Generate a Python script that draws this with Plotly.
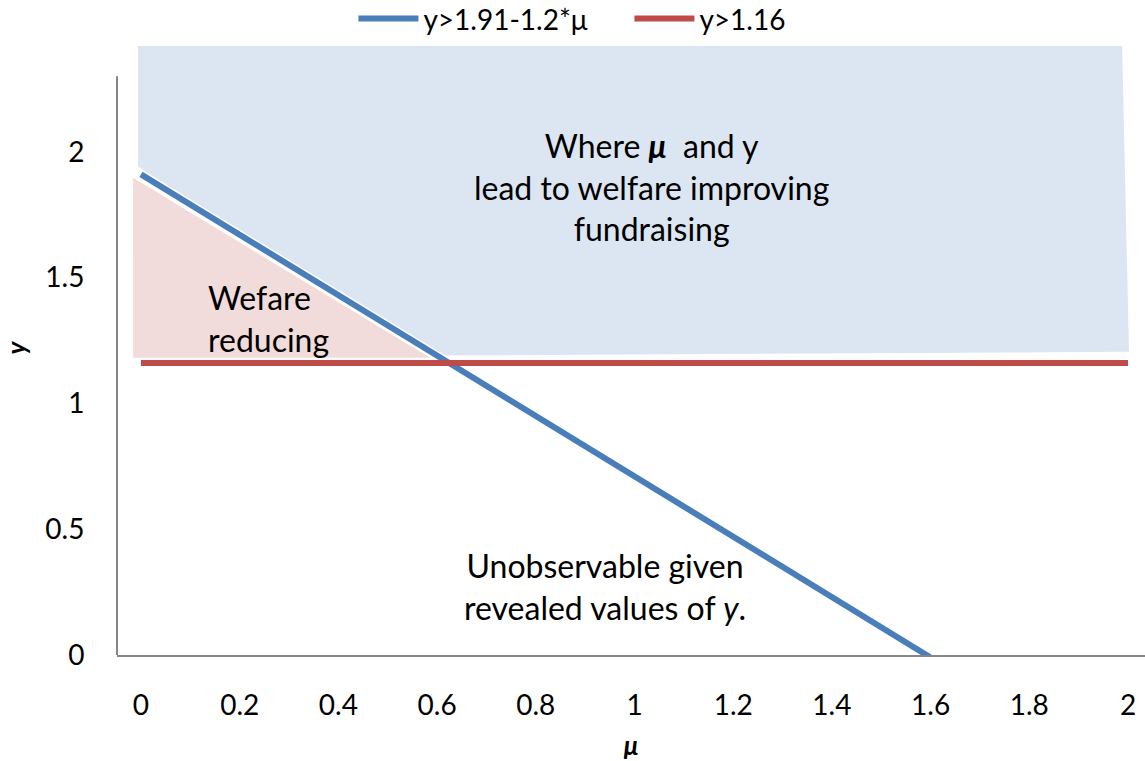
import plotly.graph_objects as go

# Data
line1_x = [0, 0.2, 0.4, 0.6, 0.8, 1.0, 1.2, 1.4, 1.6]
line1_y = [1.91, 1.67, 1.43, 1.19, 0.95, 0.71, 0.47, 0.23, -0.01]
line2_x = [0, 2]
line2_y = [1.16, 1.16]
line1_name = "y>1.91-1.2*μ"
line2_name = "y>1.16"

# shaded regions (vertices)
blue_region_x = [-0.006, 1.988, 2.002, 0.60, -0.006]
blue_region_y = [2.42, 2.42, 1.205, 1.19, 1.94]
pink_region_x = [-0.016, -0.016, 0.586]
pink_region_y = [1.897, 1.181, 1.181]

x_ticks = [0, 0.2, 0.4, 0.6, 0.8, 1, 1.2, 1.4, 1.6, 1.8, 2]
y_ticks = [0, 0.5, 1, 1.5, 2]

FONT = "Lato"
BLUE = "#4A7EBB"
RED = "#BE4B48"

fig = go.Figure()
fig.add_trace(go.Scatter(x=blue_region_x, y=blue_region_y, fill="toself",
                         fillcolor="#DCE6F2", line=dict(width=0), mode="lines",
                         showlegend=False, hoverinfo="skip"))
fig.add_trace(go.Scatter(x=pink_region_x, y=pink_region_y, fill="toself",
                         fillcolor="#F2DCDB", line=dict(width=0), mode="lines",
                         showlegend=False, hoverinfo="skip"))
fig.add_trace(go.Scatter(x=line1_x, y=line1_y, mode="lines",
                         line=dict(color="white", width=9),
                         showlegend=False, hoverinfo="skip"))
fig.add_trace(go.Scatter(x=line1_x, y=line1_y, mode="lines", name=line1_name,
                         line=dict(color=BLUE, width=6)))
fig.add_trace(go.Scatter(x=line2_x, y=line2_y, mode="lines", name=line2_name,
                         line=dict(color=RED, width=6)))

ANN = 32
fig.add_annotation(x=1.035, y=1.86, xref="x", yref="y",
                   text="Where <b><i>μ</i></b>\u00a0 and y<br>lead to welfare improving<br>fundraising",
                   showarrow=False, align="center", font=dict(family=FONT, size=ANN, color="black"))
fig.add_annotation(x=0.132, y=1.336, xref="x", yref="y", xanchor="left",
                   text="Wefare<br>reducing",
                   showarrow=False, align="left", font=dict(family=FONT, size=ANN, color="black"))
fig.add_annotation(x=0.94, y=0.274, xref="x", yref="y",
                   text="Unobservable given<br>revealed values of <i>y</i>.",
                   showarrow=False, align="center", font=dict(family=FONT, size=ANN, color="black"))

# y-axis line (stops at 2.3 like the reference)
fig.add_shape(type="line", xref="paper", yref="y", x0=0, x1=0, y0=0, y1=2.3,
              line=dict(color="#868686", width=2))

fig.update_layout(
    width=1145, height=761,
    margin=dict(l=117, r=0, t=41, b=106, autoexpand=False),
    paper_bgcolor="white", plot_bgcolor="white",
    font=dict(family=FONT, size=28, color="black"),
    legend=dict(orientation="h", x=0.23, xanchor="left", y=1.036, yanchor="middle",
                entrywidth=201, entrywidthmode="pixels", itemwidth=60,
                font=dict(family=FONT, size=28, color="black"), bgcolor="rgba(0,0,0,0)"),
    xaxis=dict(range=[-0.0486, 2.0344], tickvals=x_ticks, ticktext=[f"{v:g}" for v in x_ticks],
               showgrid=False, zeroline=False, showline=True, linecolor="#868686", linewidth=2,
               ticks="outside", ticklen=24, tickcolor="rgba(0,0,0,0)", automargin=False,
               tickfont=dict(family=FONT, size=28),
               title=dict(text="<b><i>μ</i></b>", font=dict(family=FONT, size=26), standoff=18)),
    yaxis=dict(range=[0, 2.44], tickvals=y_ticks, ticktext=[f"{v:g}" for v in y_ticks],
               showgrid=False, zeroline=False, showline=False, automargin=False,
               ticks="outside", ticklen=26, tickcolor="rgba(0,0,0,0)",
               tickfont=dict(family=FONT, size=28),
               title=dict(text="<b><i>y</i></b>", font=dict(family=FONT, size=26), standoff=22)),
)

# remove the default 8px page margin so the figure fills the window exactly
fig.write_html("out.html", config={"displayModeBar": False},
               post_script="document.body.style.margin='0';")
